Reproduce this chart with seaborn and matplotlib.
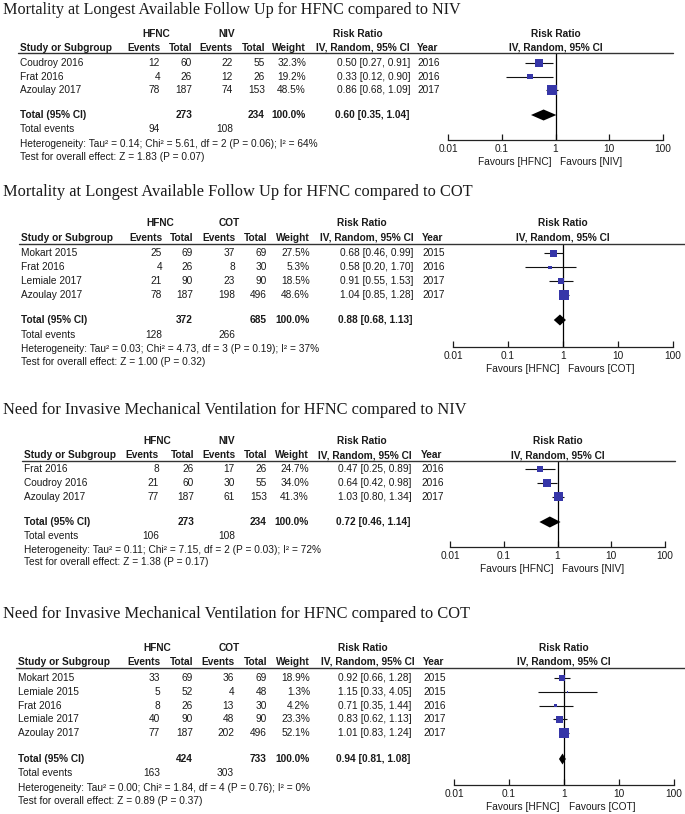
import numpy as np
import pandas as pd
import seaborn as sns
import matplotlib.pyplot as plt
from matplotlib.lines import Line2D

W, H = 685, 814

# ---- panel 1: mortality, HFNC vs NIV
p1_title = "Mortality at Longest Available Follow Up for HFNC compared to NIV"
p1_control = "NIV"
p1_study = ["Coudroy 2016", "Frat 2016", "Azoulay 2017"]
p1_hfnc_events = [12, 4, 78]
p1_hfnc_total = [60, 26, 187]
p1_ctrl_events = [22, 12, 74]
p1_ctrl_total = [55, 26, 153]
p1_weight = [32.3, 19.2, 48.5]
p1_rr = [0.50, 0.33, 0.86]
p1_lo = [0.27, 0.12, 0.68]
p1_hi = [0.91, 0.90, 1.09]
p1_year = [2016, 2016, 2017]
p1_totals = [273, 234, 94, 108]
p1_pooled = [0.60, 0.35, 1.04]
p1_het = "Heterogeneity: Tau² = 0.14; Chi² = 5.61, df = 2 (P = 0.06); I² = 64%"
p1_z = "Test for overall effect: Z = 1.83 (P = 0.07)"

# ---- panel 2: mortality, HFNC vs COT
p2_title = "Mortality at Longest Available Follow Up for HFNC compared to COT"
p2_control = "COT"
p2_study = ["Mokart 2015", "Frat 2016", "Lemiale 2017", "Azoulay 2017"]
p2_hfnc_events = [25, 4, 21, 78]
p2_hfnc_total = [69, 26, 90, 187]
p2_ctrl_events = [37, 8, 23, 198]
p2_ctrl_total = [69, 30, 90, 496]
p2_weight = [27.5, 5.3, 18.5, 48.6]
p2_rr = [0.68, 0.58, 0.91, 1.04]
p2_lo = [0.46, 0.20, 0.55, 0.85]
p2_hi = [0.99, 1.70, 1.53, 1.28]
p2_year = [2015, 2016, 2017, 2017]
p2_totals = [372, 685, 128, 266]
p2_pooled = [0.88, 0.68, 1.13]
p2_het = "Heterogeneity: Tau² = 0.03; Chi² = 4.73, df = 3 (P = 0.19); I² = 37%"
p2_z = "Test for overall effect: Z = 1.00 (P = 0.32)"

# ---- panel 3: intubation, HFNC vs NIV
p3_title = "Need for Invasive Mechanical Ventilation for HFNC compared to NIV"
p3_control = "NIV"
p3_study = ["Frat 2016", "Coudroy 2016", "Azoulay 2017"]
p3_hfnc_events = [8, 21, 77]
p3_hfnc_total = [26, 60, 187]
p3_ctrl_events = [17, 30, 61]
p3_ctrl_total = [26, 55, 153]
p3_weight = [24.7, 34.0, 41.3]
p3_rr = [0.47, 0.64, 1.03]
p3_lo = [0.25, 0.42, 0.80]
p3_hi = [0.89, 0.98, 1.34]
p3_year = [2016, 2016, 2017]
p3_totals = [273, 234, 106, 108]
p3_pooled = [0.72, 0.46, 1.14]
p3_het = "Heterogeneity: Tau² = 0.11; Chi² = 7.15, df = 2 (P = 0.03); I² = 72%"
p3_z = "Test for overall effect: Z = 1.38 (P = 0.17)"

# ---- panel 4: intubation, HFNC vs COT
p4_title = "Need for Invasive Mechanical Ventilation for HFNC compared to COT"
p4_control = "COT"
p4_study = ["Mokart 2015", "Lemiale 2015", "Frat 2016", "Lemiale 2017", "Azoulay 2017"]
p4_hfnc_events = [33, 5, 8, 40, 77]
p4_hfnc_total = [69, 52, 26, 90, 187]
p4_ctrl_events = [36, 4, 13, 48, 202]
p4_ctrl_total = [69, 48, 30, 90, 496]
p4_weight = [18.9, 1.3, 4.2, 23.3, 52.1]
p4_rr = [0.92, 1.15, 0.71, 0.83, 1.01]
p4_lo = [0.66, 0.33, 0.35, 0.62, 0.83]
p4_hi = [1.28, 4.05, 1.44, 1.13, 1.24]
p4_year = [2015, 2015, 2016, 2017, 2017]
p4_totals = [424, 733, 163, 303]
p4_pooled = [0.94, 0.81, 1.08]
p4_het = "Heterogeneity: Tau² = 0.00; Chi² = 1.84, df = 4 (P = 0.76); I² = 0%"
p4_z = "Test for overall effect: Z = 0.89 (P = 0.37)"

# layout in pixels (y from top)
layouts = [
    dict(title_y=10, title_fs=11.6, h1=34, h2=48, line_y=53, line_r=673, row0=63, dy=13.5, tot=115, tev=129,
         het=144, z=157, axis_y=140, x001=448, dec=53.75,
         study=20, ev=160, tt=192, cev=233, ctt=265, w=306, ci=337, ci_r=410, yr=417, hf_c=156, ct_c=227, rr_c=358),
    dict(title_y=192, title_fs=11.8, h1=223, h2=238, line_y=244, line_r=685, row0=253.5, dy=13.8, tot=320, tev=335,
         het=349, z=362, axis_y=347, x001=453, dec=55,
         study=21, ev=162, tt=193, cev=235, ctt=267, w=310, ci=340, ci_r=414, yr=422, hf_c=160, ct_c=229, rr_c=362),
    dict(title_y=410, title_fs=11.8, h1=441, h2=455, line_y=460.5, line_r=675, row0=469, dy=13.8, tot=522, tev=536,
         het=550, z=562, axis_y=547, x001=450, dec=53.75,
         study=24, ev=159, tt=194, cev=235, ctt=267, w=309, ci=338, ci_r=412, yr=421, hf_c=157, ct_c=227, rr_c=362),
    dict(title_y=614, title_fs=11.8, h1=648, h2=662, line_y=667.5, line_r=685, row0=678, dy=13.8, tot=759, tev=773,
         het=788, z=801, axis_y=785, x001=454, dec=55,
         study=18, ev=160, tt=193, cev=234, ctt=267, w=310, ci=338, ci_r=415, yr=423, hf_c=157, ct_c=229, rr_c=363),
]

sns.set_style("white")
plt.rcParams["font.family"] = ["Liberation Sans", "DejaVu Sans"]

TXT = "#1a1a1a"
BLUE = "#3636a8"
FS = 7.25

fig = plt.figure(figsize=(W / 100, H / 100), dpi=100)


def fx(x):
    return x / W


def fy(y):
    return 1 - y / H


def put(x, y, s, ha="left", bold=False, size=FS, family=None):
    fig.text(fx(x), fy(y), s, ha=ha, va="center", fontsize=size, color=TXT,
             fontweight="bold" if bold else "normal",
             family=family or ["Liberation Sans", "DejaVu Sans"])


def draw_panel(i, lay):
    g = globals()
    p = f"p{i}_"
    df = pd.DataFrame({
        "study": g[p + "study"], "he": g[p + "hfnc_events"], "ht": g[p + "hfnc_total"],
        "ce": g[p + "ctrl_events"], "ct": g[p + "ctrl_total"], "w": g[p + "weight"],
        "rr": g[p + "rr"], "lo": g[p + "lo"], "hi": g[p + "hi"], "year": g[p + "year"],
    })
    control = g[p + "control"]
    tot_h, tot_c, ev_h, ev_c = g[p + "totals"]
    prr, plo, phi = g[p + "pooled"]
    df["ypix"] = lay["row0"] + lay["dy"] * np.arange(len(df))

    # title
    put(3, lay["title_y"], g[p + "title"], size=lay["title_fs"], family=["Liberation Serif", "DejaVu Serif"])

    # table header
    put(lay["hf_c"], lay["h1"], "HFNC", ha="center", bold=True)
    put(lay["ct_c"], lay["h1"], control, ha="center", bold=True)
    put(lay["rr_c"], lay["h1"], "Risk Ratio", ha="center", bold=True)
    put(lay["study"], lay["h2"], "Study or Subgroup", bold=True)
    put(lay["ev"], lay["h2"], "Events", ha="right", bold=True)
    put(lay["tt"], lay["h2"], "Total", ha="right", bold=True)
    put(lay["cev"], lay["h2"], "Events", ha="right", bold=True)
    put(lay["ctt"], lay["h2"], "Total", ha="right", bold=True)
    put(lay["w"], lay["h2"], "Weight", ha="right", bold=True)
    put(lay["ci_r"], lay["h2"], "IV, Random, 95% CI", ha="right", bold=True)
    put(lay["yr"], lay["h2"], "Year", bold=True)
    fig.add_artist(Line2D([fx(lay["study"] - 2), fx(lay["line_r"])], [fy(lay["line_y"])] * 2,
                          transform=fig.transFigure, color="#333333", lw=1.0))

    # study rows
    for _, r in df.iterrows():
        y = r["ypix"]
        put(lay["study"], y, r["study"])
        put(lay["ev"], y, str(r["he"]), ha="right")
        put(lay["tt"], y, str(r["ht"]), ha="right")
        put(lay["cev"], y, str(r["ce"]), ha="right")
        put(lay["ctt"], y, str(r["ct"]), ha="right")
        put(lay["w"], y, f"{r['w']:.1f}%", ha="right")
        put(lay["ci"], y, f"{r['rr']:.2f} [{r['lo']:.2f}, {r['hi']:.2f}]")
        put(lay["yr"], y, str(r["year"]))

    # totals
    put(lay["study"], lay["tot"], "Total (95% CI)", bold=True)
    put(lay["tt"], lay["tot"], str(tot_h), ha="right", bold=True)
    put(lay["ctt"], lay["tot"], str(tot_c), ha="right", bold=True)
    put(lay["w"], lay["tot"], "100.0%", ha="right", bold=True)
    put(lay["ci"] - 2, lay["tot"], f"{prr:.2f} [{plo:.2f}, {phi:.2f}]", bold=True)
    put(lay["study"], lay["tev"], "Total events")
    put(lay["ev"], lay["tev"], str(ev_h), ha="right")
    put(lay["cev"], lay["tev"], str(ev_c), ha="right")
    put(lay["study"], lay["het"], g[p + "het"])
    put(lay["study"], lay["z"], g[p + "z"])

    # forest plot axes: y in pixel units, x log risk ratio
    x0, x1 = lay["x001"], lay["x001"] + 4 * lay["dec"]
    top, bot = lay["line_y"], lay["axis_y"]
    ax = fig.add_axes([fx(x0), fy(bot), (x1 - x0) / W, (bot - top) / H])
    ax.set_xscale("log")
    ax.set_facecolor("none")

    ax.hlines(df["ypix"], df["lo"], df["hi"], color="#111111", lw=0.8, zorder=2)
    side_pt = 1.35 * np.sqrt(df["w"]) * 0.72
    sns.scatterplot(data=df, x="rr", y="ypix", marker="s", s=side_pt ** 2, color=BLUE,
                    edgecolor=BLUE, linewidth=0, ax=ax, zorder=3, legend=False)
    ty, hh = lay["tot"], 5.5
    ax.fill([plo, prr, phi, prr], [ty, ty - hh, ty, ty + hh], color="black", lw=0, zorder=3)
    ax.axvline(1, color="black", lw=0.9, zorder=1)

    ax.set_xlim(0.01, 100)
    ax.set_ylim(bot, top)
    for s in ["top", "left", "right"]:
        ax.spines[s].set_visible(False)
    ax.spines["bottom"].set_color("#222222")
    ax.spines["bottom"].set_linewidth(0.9)
    ax.set_xticks([0.01, 0.1, 1, 10, 100])
    ax.set_xticklabels(["0.01", "0.1", "1", "10", "100"])
    ax.minorticks_off()
    ax.tick_params(axis="x", direction="in", length=4.5, width=0.9, pad=3, labelsize=FS,
                   colors=TXT, bottom=True)
    ax.set_yticks([])
    ax.set_xlabel("")
    ax.set_ylabel("")

    one = x0 + 2 * lay["dec"]
    put(one, lay["h1"], "Risk Ratio", ha="center", bold=True)
    put(one, lay["h2"], "IV, Random, 95% CI", ha="center", bold=True)
    put(one - 4, bot + 22, "Favours [HFNC]", ha="right")
    put(one + 5, bot + 22, f"Favours [{control}]")


for i, lay in enumerate(layouts, start=1):
    draw_panel(i, lay)

fig.savefig("out.png", dpi=100, facecolor="white")
